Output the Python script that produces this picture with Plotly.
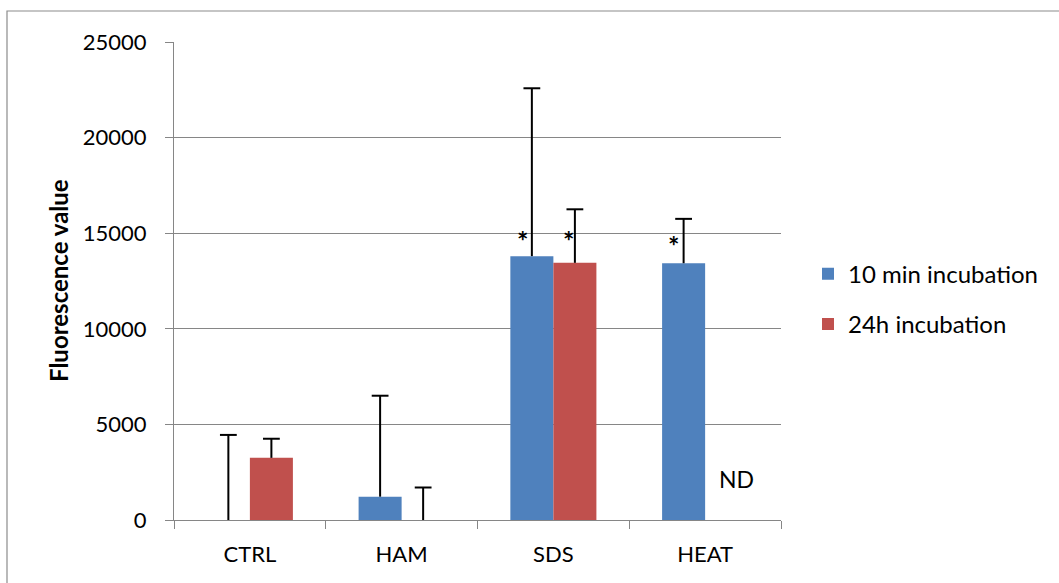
import plotly.graph_objects as go

categories = ["CTRL", "HAM", "SDS", "HEAT"]
min10_values = [0, 1220, 13800, 13430]
min10_err_plus = [4450, 5280, 8780, 2320]
h24_values = [3250, 0, 13450, None]
h24_err_plus = [1000, 1700, 2800, None]
y_ticks = [0, 5000, 10000, 15000, 20000, 25000]

FONT = "Lato"
BLUE = "#4F81BD"
RED = "#C0504D"
BAR_W = 0.2835  # width of one bar in category units

cat_pos = list(range(len(categories)))
blue_x = [p - BAR_W / 2 for p in cat_pos]
red_x = [p + BAR_W / 2 for p in cat_pos]


def tops(vals, errs):
    return [None if (v is None or e is None) else v + e for v, e in zip(vals, errs)]


fig = go.Figure()
fig.add_trace(go.Bar(
    x=blue_x, y=min10_values, name="10 min incubation", width=BAR_W,
    marker=dict(color=BLUE, line=dict(width=0)),
    error_y=dict(type="data", symmetric=False, array=min10_err_plus,
                 arrayminus=[0] * 4, color="black", thickness=2, width=0),
    legendgroup="a",
))
fig.add_trace(go.Bar(
    x=red_x, y=h24_values, name="24h incubation", width=BAR_W,
    marker=dict(color=RED, line=dict(width=0)),
    error_y=dict(type="data", symmetric=False, array=h24_err_plus,
                 arrayminus=[0] * 4, color="black", thickness=2, width=0),
    legendgroup="b",
))
# error bar caps
for xs, vals, errs in [(blue_x, min10_values, min10_err_plus), (red_x, h24_values, h24_err_plus)]:
    fig.add_trace(go.Scatter(
        x=xs, y=tops(vals, errs), mode="markers", showlegend=False, hoverinfo="skip",
        marker=dict(symbol="line-ew", size=12, line=dict(color="black", width=2)),
    ))

# significance markers
stars = [(blue_x[2], min10_values[2], -9.5, 16),
         (red_x[2], h24_values[2], -6, 22),
         (blue_x[3], min10_values[3], -10, 18)]
for sx, sy, xs, ys in stars:
    fig.add_annotation(x=sx, y=sy, xref="x", yref="y", text="<b>*</b>", showarrow=False,
                       xshift=xs, yshift=ys, yanchor="middle",
                       font=dict(family=FONT, size=27, color="black"))
fig.add_annotation(x=red_x[3], y=2150, xref="x", yref="y", text="ND", showarrow=False,
                   xshift=9.5, yanchor="middle",
                   font=dict(family=FONT, size=23, color="black"))

# y-axis title
fig.add_annotation(x=(58 - 174) / 607, y=0.5, xref="paper", yref="paper",
                   text="<b>Fluorescence value</b>", textangle=-90, showarrow=False,
                   xanchor="center", yanchor="middle",
                   font=dict(family=FONT, size=24, color="black"))

# outer chart border (left/top visible)
fig.add_shape(type="rect", xref="paper", yref="paper",
              x0=(7 - 174) / 607, x1=1.6, y0=-0.5, y1=(520 - 11) / 478,
              line=dict(color="#8C8C8C", width=1.2), fillcolor="rgba(0,0,0,0)", layer="below")

fig.update_layout(
    width=1059, height=583,
    margin=dict(l=174, r=278, t=42, b=63),
    paper_bgcolor="white", plot_bgcolor="white",
    barmode="overlay",
    font=dict(family=FONT, size=23, color="black"),
    showlegend=True,
    legend=dict(x=(808 - 174) / 607, y=0.462, xanchor="left", yanchor="middle",
                font=dict(family=FONT, size=24), tracegroupgap=16,
                itemwidth=30, bgcolor="rgba(0,0,0,0)"),
    xaxis=dict(range=[-0.5, 3.5], tickvals=cat_pos, ticktext=categories,
               showline=True, linecolor="#868686", linewidth=1.2,
               ticks="", showgrid=False, zeroline=False,
               minor=dict(tickvals=[-0.5, 0.5, 1.5, 2.5, 3.5], ticks="outside",
                          ticklen=8, tickcolor="#868686", tickwidth=1.2, showgrid=False),
               tickfont=dict(family=FONT, size=22), ticklabelstandoff=14),
    yaxis=dict(range=[0, 25000], tickvals=y_ticks, ticktext=[str(v) for v in y_ticks],
               showline=True, linecolor="#868686", linewidth=1.2,
               ticks="outside", ticklen=8, tickcolor="#868686", tickwidth=1.2,
               showgrid=True, gridcolor="#868686", gridwidth=1.2, zeroline=False,
               tickfont=dict(family=FONT, size=22), ticklabelstandoff=14),
)

fig.write_html("out.html")
